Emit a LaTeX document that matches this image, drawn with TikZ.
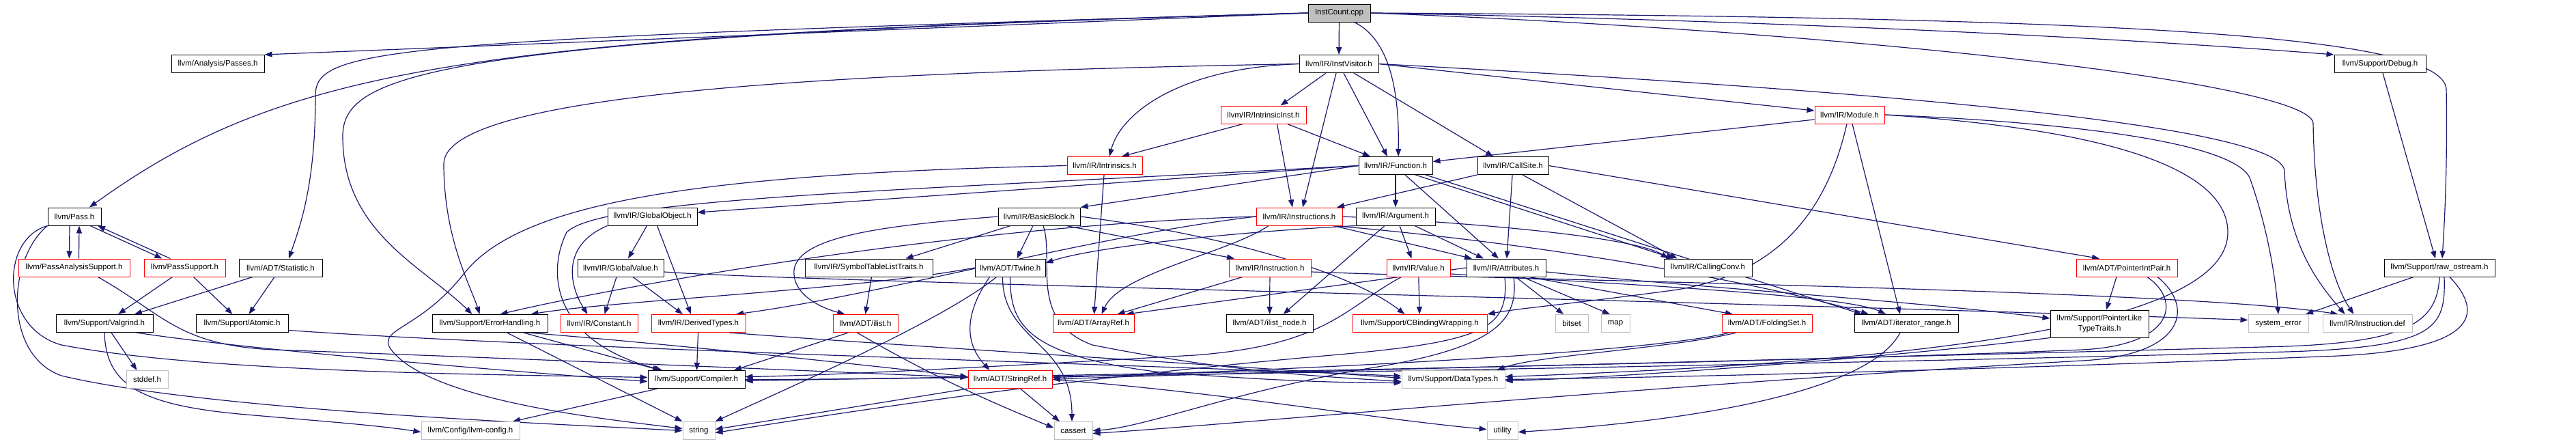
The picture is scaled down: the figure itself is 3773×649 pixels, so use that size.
\documentclass[tikz,border=0pt]{standalone}
\usepackage{fontspec}
\setmainfont{Liberation Sans}
\usetikzlibrary{arrows.meta}
\definecolor{edgec}{HTML}{191970}
\definecolor{grayb}{HTML}{BFBFBF}
\definecolor{redb}{HTML}{FF0000}
\pgfdeclarelayer{bg}
\pgfdeclarelayer{edges}
\pgfsetlayers{bg,edges,main}
\tikzset{
  nbox/.style={rectangle, inner sep=0pt, minimum height=26pt, line width=1pt, fill=white, font=\fontsize{11.5pt}{15pt}\selectfont, text=black},
  bk/.style={nbox, draw=black},
  rd/.style={nbox, draw=redb},
  gr/.style={nbox, draw=grayb},
  dep/.style={draw=edgec, line width=1.2pt, -{Triangle[length=11pt,width=8pt]}},
}
\begin{document}
\begin{tikzpicture}[x=1pt,y=-1pt]
\begin{pgfonlayer}{bg}
\fill[white] (0,0) rectangle (3773,649);
\end{pgfonlayer}
\useasboundingbox (0,0) rectangle (3773,649);
% row A
\node[bk, fill=grayb, minimum width=91pt] (ic) at (1961.5,19) {InstCount.cpp};
% row B
\node[bk, minimum width=136pt] (passes) at (319,93.5) {llvm/Analysis/Passes.h};
\node[bk, minimum width=116pt] (iv) at (1961,93.5) {llvm/IR/InstVisitor.h};
\node[bk, minimum width=134pt] (dbg) at (3486,93.5) {llvm/Support/Debug.h};
% row C
\node[rd, minimum width=125pt] (ii) at (1850.5,168) {llvm/IR/IntrinsicInst.h};
\node[rd, minimum width=102pt] (mod) at (2709,168) {llvm/IR/Module.h};
% row D
\node[rd, minimum width=110pt] (intr) at (1618,242.5) {llvm/IR/Intrinsics.h};
\node[bk, minimum width=108pt] (fn) at (2044,242.5) {llvm/IR/Function.h};
\node[bk, minimum width=104pt] (cs) at (2216,242.5) {llvm/IR/CallSite.h};
% row E
\node[bk, minimum width=78pt] (pass) at (109,317) {llvm/Pass.h};
\node[bk, minimum width=131pt] (go) at (955.5,317) {llvm/IR/GlobalObject.h};
\node[bk, minimum width=120pt] (bb) at (1522,317) {llvm/IR/BasicBlock.h};
\node[rd, minimum width=126pt] (ins) at (1903,317) {llvm/IR/Instructions.h};
\node[bk, minimum width=116pt] (arg) at (2044,317) {llvm/IR/Argument.h};
% row F
\node[rd, minimum width=163pt] (pas) at (108.5,392) {llvm/PassAnalysisSupport.h};
\node[rd, minimum width=119pt] (ps) at (270.5,392) {llvm/PassSupport.h};
\node[bk, minimum width=122pt] (st) at (411,392) {llvm/ADT/Statistic.h};
\node[bk, minimum width=126pt] (gv) at (909,392) {llvm/IR/GlobalValue.h};
\node[bk, minimum width=187pt] (sym) at (1272.5,392) {llvm/IR/SymbolTableListTraits.h};
\node[bk, minimum width=103pt] (tw) at (1479.5,392) {llvm/ADT/Twine.h};
\node[rd, minimum width=120pt] (inst) at (1860,392) {llvm/IR/Instruction.h};
\node[rd, minimum width=93pt] (val) at (2077.5,392) {llvm/IR/Value.h};
\node[bk, minimum width=116pt] (attr) at (2206,392) {llvm/IR/Attributes.h};
\node[bk, minimum width=129pt] (cc) at (2501.5,392) {llvm/IR/CallingConv.h};
\node[rd, minimum width=148pt] (pip) at (3115,392) {llvm/ADT/PointerIntPair.h};
\node[bk, minimum width=162pt] (ro) at (3573,392) {llvm/Support/raw\_ostream.h};
% row G
\node[bk, minimum width=142pt] (vg) at (153,473.5) {llvm/Support/Valgrind.h};
\node[bk, minimum width=135pt] (at) at (354.5,473.5) {llvm/Support/Atomic.h};
\node[bk, minimum width=169pt] (eh) at (717.5,473.5) {llvm/Support/ErrorHandling.h};
\node[rd, minimum width=113pt] (con) at (877.5,473.5) {llvm/IR/Constant.h};
\node[rd, minimum width=138pt] (dt) at (1023,473.5) {llvm/IR/DerivedTypes.h};
\node[rd, minimum width=95pt] (il) at (1267.5,473.5) {llvm/ADT/ilist.h};
\node[rd, minimum width=119pt] (ar) at (1601.5,473.5) {llvm/ADT/ArrayRef.h};
\node[bk, minimum width=127pt] (iln) at (1859.5,473.5) {llvm/ADT/ilist\_node.h};
\node[rd, minimum width=197pt] (cbw) at (2079.5,473.5) {llvm/Support/CBindingWrapping.h};
\node[gr, minimum width=48pt] (bs) at (2302,473.5) {bitset};
\node[gr, minimum width=42pt] (map) at (2366,473.5) {map};
\node[rd, minimum width=132pt] (fs) at (2588,473.5) {llvm/ADT/FoldingSet.h};
\node[bk, minimum width=152pt] (ir) at (2792,473.5) {llvm/ADT/iterator\_range.h};
\node[bk, minimum width=144pt, minimum height=40pt, align=center] (pl) at (3075,474) {llvm/Support/PointerLike\\TypeTraits.h};
\node[gr, minimum width=88pt] (se) at (3337,473.5) {system\_error};
\node[gr, minimum width=131pt] (idef) at (3467.5,473.5) {llvm/IR/Instruction.def};
% row H
\node[gr, minimum width=61pt] (sd) at (215.5,555.5) {stddef.h};
\node[bk, minimum width=142pt] (cmp) at (1020,555.5) {llvm/Support/Compiler.h};
\node[rd, minimum width=123pt] (sr) at (1479.5,555.5) {llvm/ADT/StringRef.h};
\node[gr, minimum width=151pt] (dty) at (2128.5,555.5) {llvm/Support/DataTypes.h};
% row I
\node[gr, minimum width=144pt] (cfg) at (689,630.5) {llvm/Config/llvm-config.h};
\node[gr, minimum width=47pt] (str) at (1023.5,630.5) {string};
\node[gr, minimum width=56pt] (ca) at (1572,630.5) {cassert};
\node[gr, minimum width=45pt] (ut) at (2200.5,630.5) {utility};

\begin{pgfonlayer}{edges}
% InstCount
\draw[dep] (ic.west) -- (passes.north east);
\draw[dep] (ic.west) .. controls (700,52) and (420,95) .. ([xshift=22pt]pass.north);
\draw[dep] (ic.west) .. controls (560,58) and (462,70) .. (462,140) .. controls (462,270) and (440,330) .. ([xshift=12pt]st.north);
\draw[dep] ([xshift=22pt]ic.south) .. controls (2030,55) and (2050,120) .. ([xshift=4pt]fn.north);
\draw[dep] (ic) -- (iv);
\draw[dep] (ic.west) .. controls (620,55) and (502,110) .. (502,200) .. controls (502,340) and (620,390) .. ([xshift=-26pt]eh.north);
\draw[dep] (ic.east) .. controls (2600,30) and (3100,55) .. (dbg.north west);
\draw[dep] (ic.east) .. controls (3100,25) and (3575,50) .. (3583,130) .. controls (3585,250) and (3580,330) .. ([xshift=4pt]ro.north);
\draw[dep] (ic.east) .. controls (2700,45) and (3380,120) .. (3388,180) .. controls (3390,330) and (3420,420) .. ([xshift=-20pt]idef.north);
% InstVisitor
\draw[dep] ([xshift=22pt]iv.south) -- ([xshift=-29pt]cs.north);
\draw[dep] ([xshift=7pt]iv.south) -- ([xshift=-12pt]fn.north);
\draw[dep] ([xshift=-4pt]iv.south) -- ([xshift=5pt]ins.north);
\draw[dep] ([xshift=-19pt]iv.south) -- ([xshift=25pt]ii.north);
\draw[dep] (iv.west) .. controls (1720,100) and (1640,170) .. ([xshift=7pt]intr.north);
\draw[dep] (iv.east) -- ([yshift=6pt]mod.west);
\draw[dep] (iv.west) .. controls (1300,105) and (650,130) .. (650,240) .. controls (650,350) and (690,420) .. ([xshift=-15pt]eh.north);
\draw[dep] (iv.east) .. controls (2700,130) and (3340,180) .. (3346,250) .. controls (3350,360) and (3400,420) .. ([xshift=-33pt]idef.north);
% IntrinsicInst
\draw[dep] ([xshift=35pt]ii.south) -- ([xshift=-37pt]fn.north);
\draw[dep] ([xshift=20pt]ii.south) -- ([xshift=-10pt]ins.north);
\draw[dep] ([xshift=-30pt]ii.south) -- ([xshift=25pt]intr.north);
% Module
\draw[dep] ([yshift=-7pt]mod.west) -- ([yshift=6pt]fn.east);
\draw[dep] ([xshift=4pt]mod.south) -- ([xshift=-9pt]ir.north);
\draw[dep] ([xshift=-4pt]mod.south) .. controls (2680,290) and (2620,400) .. (2450,425) .. controls (2300,445) and (2220,452) .. (cbw.north east);
\draw[dep] (mod.east) .. controls (3100,190) and (3263,250) .. (3263,340) .. controls (3263,480) and (2800,530) .. ([yshift=4pt]dty.east);
\draw[dep] (mod.east) .. controls (3050,180) and (3270,210) .. (3295,260) .. controls (3320,330) and (3332,400) .. (se.north);
% Intrinsics
\draw[dep] (intr) -- (ar);
\draw[dep] (intr.west) .. controls (1000,255) and (760,300) .. (680,400) .. controls (610,490) and (540,480) .. (580,520) .. controls (650,590) and (900,615) .. ([yshift=3pt]str.west);
% Function
\draw[dep] ([xshift=44pt]fn.south) -- ([xshift=-65pt]ir.north);
\draw[dep] (fn) -- (arg);
\draw[dep] ([xshift=14pt]fn.south) -- ([xshift=-11pt]attr.north);
\draw[dep] (fn.west) -- (bb.north east);
\draw[dep] ([xshift=29pt]fn.south) -- ([xshift=-50pt]cc.north);
\draw[dep] (fn.west) -- ([yshift=6pt]go.east);
\draw[dep] (fn.west) .. controls (1300,280) and (880,290) .. (830,340) .. controls (800,400) and (810,500) .. ([xshift=-50pt]cmp.north);
% CallSite
\draw[dep] (cs.east) -- ([xshift=-40pt]pip.north);
\draw[dep] (cs) -- (attr);
\draw[dep] ([xshift=14pt]cs.south) -- ([xshift=-45pt]cc.north);
\draw[dep] (cs.south west) -- ([xshift=55pt]ins.north);
% Pass
\draw[dep] ([xshift=-7pt]pass.south) -- ([xshift=-7pt]pas.north);
\draw[dep] ([xshift=23pt]pass.south) -- ([xshift=-33pt]ps.north);
\draw[dep] (pass.south west) .. controls (0,350) and (0,480) .. (90,505) .. controls (300,545) and (700,548) .. ([yshift=3pt]cmp.west);
\draw[dep] (pass.south west) .. controls (10,380) and (5,520) .. (90,550) .. controls (300,600) and (800,620) .. (str.west);
% PassAnalysisSupport
\draw[dep] ([xshift=7pt]pas.north) -- ([xshift=7pt]pass.south);
\draw[dep] ([xshift=35pt]pas.south) .. controls (240,460) and (260,505) .. (400,512) .. controls (900,530) and (1300,548) .. ([yshift=3pt]sr.west);
% PassSupport
\draw[dep] ([xshift=-21pt]ps.north) -- ([xshift=34pt]pass.south);
\draw[dep] ([xshift=-18pt]ps.south) -- ([xshift=20pt]vg.north);
\draw[dep] ([xshift=13pt]ps.south) -- ([xshift=-14pt]at.north);
% Statistic
\draw[dep] ([xshift=-41pt]st.south) -- ([xshift=44pt]vg.north);
\draw[dep] ([xshift=-9pt]st.south) -- ([xshift=10pt]at.north);
% GlobalObject
\draw[dep] (go.south west) .. controls (820,360) and (835,420) .. ([xshift=-17pt]con.north);
\draw[dep] ([xshift=-8pt]go.south) -- ([xshift=11pt]gv.north);
\draw[dep] ([xshift=7pt]go.south) -- ([xshift=-11pt]dt.north);
% GlobalValue
\draw[dep] ([xshift=-6pt]gv.south) -- ([xshift=8pt]con.north);
\draw[dep] ([xshift=18pt]gv.south) -- ([xshift=-23pt]dt.north);
\draw[dep] ([yshift=-6pt]gv.east) .. controls (1150,412) and (2500,440) .. ([yshift=5pt]se.west);
% BasicBlock
\draw[dep] ([xshift=-9pt]bb.south) -- ([xshift=10pt]tw.north);
\draw[dep] ([xshift=-42pt]bb.south) -- ([xshift=54pt]sym.north);
\draw[dep] ([xshift=40pt]bb.south) -- ([xshift=-52pt]inst.north);
\draw[dep] (bb.west) .. controls (1300,330) and (1170,345) .. (1163,395) .. controls (1160,430) and (1200,450) .. ([xshift=-30pt]il.north);
\draw[dep] (bb.east) .. controls (1800,345) and (1980,400) .. ([xshift=-22pt]cbw.north);
\draw[dep] ([xshift=6pt]bb.south) .. controls (1545,380) and (1505,470) .. (1600,505) .. controls (1800,545) and (1950,552) .. ([yshift=-3pt]dty.west);
% SymbolTableListTraits
\draw[dep] ([xshift=4pt]sym.south) -- (il.north);
% Instructions
\draw[dep] ([xshift=-45pt]ins.south) .. controls (1800,370) and (1640,400) .. ([xshift=12pt]ar.north);
\draw[dep] ([xshift=50pt]ins.south) .. controls (2300,360) and (2600,420) .. ([xshift=-55pt]ir.north);
\draw[dep] ([xshift=50pt]ins.south) -- ([xshift=-50pt]attr.north);
\draw[dep] (ins.east) .. controls (2200,328) and (2400,350) .. ([xshift=-58pt]cc.north);
\draw[dep] (ins.west) .. controls (1600,345) and (1300,430) .. ([xshift=55pt]dt.north);
\draw[dep] (ins.west) .. controls (1400,330) and (900,420) .. ([xshift=15pt]eh.north);
% Argument
\draw[dep] (arg.south west) .. controls (1800,340) and (1600,362) .. ([yshift=7pt]tw.east);
\draw[dep] ([xshift=-16pt]arg.south) -- ([xshift=20pt]iln.north);
\draw[dep] ([xshift=28pt]arg.south) -- ([xshift=-33pt]attr.north);
\draw[dep] ([xshift=6pt]arg.south) -- ([xshift=-10pt]val.north);
% Twine
\draw[dep] ([xshift=-30pt]tw.south) .. controls (1405,470) and (1420,510) .. ([xshift=-30pt]sr.north);
\draw[dep] (tw.south) .. controls (1480,470) and (1495,520) .. (1700,545) .. controls (1900,560) and (1980,560) .. ([yshift=-5pt]dty.west);
\draw[dep] (tw.west) .. controls (1250,425) and (900,440) .. ([xshift=60pt]eh.north);
\draw[dep] ([xshift=-11pt]tw.south) .. controls (1468,500) and (1570,500) .. ([xshift=-2pt]ca.north);
\draw[dep] ([xshift=-20pt]tw.south) .. controls (1380,470) and (1150,570) .. (str.north east);
% Instruction
\draw[dep] ([xshift=-40pt]inst.south) -- ([xshift=35pt]ar.north);
\draw[dep] (inst) -- (iln);
\draw[dep] ([yshift=-6pt]inst.east) .. controls (2300,412) and (3200,425) .. ([xshift=-43pt]idef.north);
% Value
\draw[dep] (val) -- (cbw);
\draw[dep] ([xshift=-25pt]val.south) .. controls (1970,450) and (1945,505) .. (1750,520) .. controls (1400,540) and (1200,550) .. ([yshift=4pt]cmp.east);
\draw[dep] ([yshift=-9pt]val.east) .. controls (2300,412) and (2700,430) .. ([xshift=-30pt]ir.north);
% Attributes
\draw[dep] (attr.west) -- ([xshift=48pt]ar.north);
\draw[dep] ([xshift=34pt]attr.south) -- ([xshift=-50pt]fs.north);
\draw[dep] ([yshift=-6pt]attr.east) .. controls (2450,418) and (2800,440) .. ([yshift=8pt]pl.west);
\draw[dep] ([xshift=14pt]attr.south) -- ([xshift=-12pt]bs.north);
\draw[dep] ([xshift=24pt]attr.south) -- ([xshift=-8pt]map.north);
\draw[dep] ([xshift=11pt]attr.south) .. controls (2225,470) and (2190,510) .. (2000,540) .. controls (1800,575) and (1680,625) .. (ca.east);
\draw[dep] ([xshift=-2pt]attr.south) .. controls (2210,480) and (2180,500) .. (1950,520) .. controls (1500,560) and (1200,610) .. ([yshift=-3pt]str.east);
% PointerIntPair
\draw[dep] ([xshift=-15pt]pip.south) -- ([xshift=10pt]pl.north);
\draw[dep] ([xshift=30pt]pip.south) .. controls (3195,440) and (3185,505) .. (3050,512) .. controls (2500,535) and (1400,552) .. ([yshift=-2pt]cmp.east);
\draw[dep] ([xshift=45pt]pip.south) .. controls (3215,450) and (3200,520) .. (3050,528) .. controls (2400,565) and (1800,622) .. ([yshift=-4pt]ca.east);
% raw_ostream
\draw[dep] ([xshift=-38pt]ro.south) -- ([xshift=40pt]se.north);
\draw[dep] (ro.south) .. controls (3570,470) and (3530,500) .. (3350,507) .. controls (2500,530) and (1700,548) .. (sr.east);
\draw[dep] ([xshift=7pt]ro.south) .. controls (3582,480) and (3570,508) .. (3350,515) .. controls (2400,540) and (1300,556) .. (cmp.east);
\draw[dep] ([xshift=15pt]ro.south) .. controls (3640,460) and (3630,515) .. (3400,522) .. controls (2800,545) and (2400,553) .. (dty.east);
% Debug
\draw[dep] ([xshift=4pt]dbg.south) -- ([xshift=-6pt]ro.north);
% Valgrind
\draw[dep] (vg.south) .. controls (155,560) and (200,592) .. (350,606) .. controls (450,615) and (550,622) .. ([yshift=-2pt]cfg.west);
\draw[dep] ([xshift=47pt]vg.south) .. controls (350,510) and (700,540) .. ([yshift=-3pt]cmp.west);
\draw[dep] ([xshift=10pt]vg.south) -- ([xshift=-15pt]sd.north);
% Atomic
\draw[dep] ([yshift=-10pt]at.east) .. controls (800,510) and (1700,535) .. ([yshift=5pt]dty.west);
% ErrorHandling
\draw[dep] ([xshift=55pt]eh.south) .. controls (1000,505) and (1300,538) .. ([yshift=4pt]sr.west);
\draw[dep] ([xshift=49pt]eh.south) -- ([xshift=-53pt]cmp.north);
\draw[dep] ([xshift=25pt]eh.south) -- (str.north west);
% DerivedTypes
\draw[dep] (dt) -- (cmp);
\draw[dep] ([xshift=45pt]dt.south) .. controls (1300,505) and (1800,535) .. ([yshift=2pt]dty.west);
% ilist
\draw[dep] ([xshift=-25pt]il.south) -- ([xshift=55pt]cmp.north);
\draw[dep] ([xshift=-12pt]il.south) .. controls (1380,560) and (1480,600) .. ([yshift=4pt]ca.west);
% FoldingSet
\draw[dep] ([xshift=-55pt]fs.south) .. controls (2400,520) and (1800,545) .. ([yshift=3pt]sr.east);
\draw[dep] ([xshift=-45pt]fs.south) .. controls (2450,510) and (2250,520) .. ([xshift=64pt]dty.north);
% iterator_range
\draw[dep] ([xshift=-9pt]ir.south) .. controls (2740,570) and (2500,615) .. ([yshift=-2pt]ut.east);
% PointerLikeTypeTraits
\draw[dep] (pl.south west) .. controls (2800,520) and (2400,552) .. ([yshift=-2pt]dty.east);
% Compiler
\draw[dep] ([xshift=-57pt]cmp.south) -- ([xshift=62pt]cfg.north);
% StringRef
\draw[dep] ([xshift=15pt]sr.south) -- ([xshift=-20pt]ca.north);
\draw[dep] (sr.south west) -- ([yshift=2pt]str.east);
\draw[dep] (sr.east) .. controls (1800,575) and (2000,612) .. ([yshift=2pt]ut.west);
\end{pgfonlayer}
\end{tikzpicture}
\end{document}
